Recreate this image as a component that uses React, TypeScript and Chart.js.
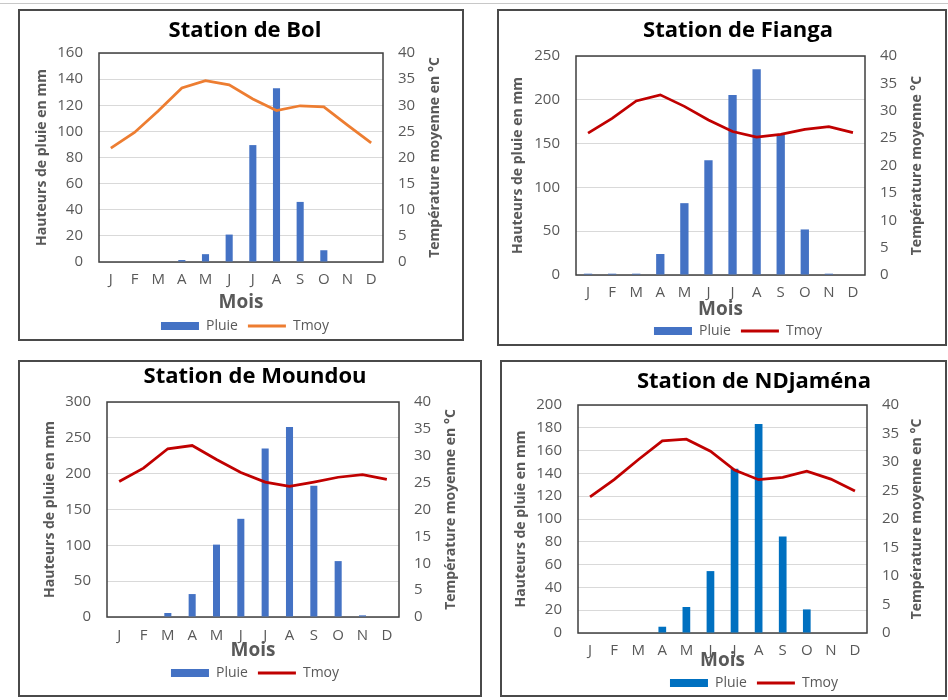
import React, { useEffect, useRef } from "react";
import { Chart, registerables } from "chart.js";

Chart.register(...registerables);

// Month initials on the category axis
const months = ["J", "F", "M", "A", "M", "J", "J", "A", "S", "O", "N", "D"];

// Monthly rainfall (mm) and mean temperature (°C) per station
const bolPluie = [0, 0, 0, 1.5, 6, 21, 89.5, 133, 46, 9, 0, 0];
const bolTmoy = [21.8, 24.8, 28.9, 33.3, 34.7, 33.9, 31.2, 29.0, 29.9, 29.7, 26.2, 22.8];

const fiangaPluie = [1.5, 1.5, 1.5, 24, 82, 131, 205.5, 235, 160, 52, 1.5, 0];
const fiangaTmoy = [25.9, 28.6, 31.8, 32.9, 30.8, 28.3, 26.2, 25.2, 25.7, 26.6, 27.1, 26.0];

const moundouPluie = [0, 0, 5.6, 32, 101, 137, 235, 265, 183, 78, 2.3, 0];
const moundouTmoy = [25.2, 27.7, 31.3, 31.9, 29.3, 26.9, 25.1, 24.3, 25.1, 26.0, 26.5, 25.6];

const ndjamenaPluie = [0, 0, 0, 5.5, 22.8, 54.3, 144, 183.4, 84.7, 20.7, 0, 0];
const ndjamenaTmoy = [23.9, 26.9, 30.4, 33.7, 34.0, 31.9, 28.6, 26.9, 27.3, 28.4, 27.0, 24.9];

const FONT = '"Open Sans", "DejaVu Sans", sans-serif';
const GREY = "#595959";

type Station = {
  title: string;
  pluie: number[];
  tmoy: number[];
  yMax: number;
  yStep: number;
  barColor: string;
  lineColor: string;
  rightTitle: string;
  barPct: number;
  box: { left: number; top: number; w: number; h: number };
  plot: { l: number; t: number; r: number; b: number };
  center: number;
  titleY: number;
  xLabelY: number;
  moisY: number;
  legendY: number;
  leftTitleX: number;
  rightTitleX: number;
};

const stations: Station[] = [
  {
    title: "Station de Bol",
    pluie: bolPluie,
    tmoy: bolTmoy,
    yMax: 160,
    yStep: 20,
    barColor: "#4472C4",
    lineColor: "#ED7D31",
    rightTitle: "Température moyenne en °C",
    barPct: 0.3,
    box: { left: 18, top: 9, w: 446, h: 332 },
    plot: { l: 99, t: 53, r: 383, b: 262 },
    center: 245,
    titleY: 31,
    xLabelY: 280,
    moisY: 303,
    legendY: 326,
    leftTitleX: 42,
    rightTitleX: 435,
  },
  {
    title: "Station de Fianga",
    pluie: fiangaPluie,
    tmoy: fiangaTmoy,
    yMax: 250,
    yStep: 50,
    barColor: "#4472C4",
    lineColor: "#C00000",
    rightTitle: "Température moyenne °C",
    barPct: 0.345,
    box: { left: 497, top: 9, w: 450, h: 337 },
    plot: { l: 576, t: 56, r: 865, b: 275 },
    center: 738,
    titleY: 31,
    xLabelY: 293,
    moisY: 310,
    legendY: 331,
    leftTitleX: 518,
    rightTitleX: 917,
  },
  {
    title: "Station de Moundou",
    pluie: moundouPluie,
    tmoy: moundouTmoy,
    yMax: 300,
    yStep: 50,
    barColor: "#4472C4",
    lineColor: "#C00000",
    rightTitle: "Température moyenne en °C",
    barPct: 0.29,
    box: { left: 18, top: 360, w: 464, h: 337 },
    plot: { l: 107, t: 402, r: 399, b: 617 },
    center: 255,
    titleY: 377,
    xLabelY: 636,
    moisY: 651,
    legendY: 673,
    leftTitleX: 50,
    rightTitleX: 451,
  },
  {
    title: "Station de NDjaména",
    pluie: ndjamenaPluie,
    tmoy: ndjamenaTmoy,
    yMax: 200,
    yStep: 20,
    barColor: "#0070C0",
    lineColor: "#C00000",
    rightTitle: "Température moyenne en °C",
    barPct: 0.32,
    box: { left: 500, top: 360, w: 447, h: 337 },
    plot: { l: 578, t: 405, r: 867, b: 633 },
    center: 754,
    titleY: 382,
    xLabelY: 651,
    moisY: 661,
    legendY: 683,
    leftTitleX: 521,
    rightTitleX: 917,
  },
];

// Dark frame around the plot area
const plotFrame = {
  id: "plotFrame",
  beforeDatasetsDraw(chart: any) {
    const { ctx, chartArea } = chart;
    ctx.save();
    ctx.strokeStyle = "#3f3f3f";
    ctx.lineWidth = 1.5;
    ctx.strokeRect(chartArea.left, chartArea.top, chartArea.right - chartArea.left, chartArea.bottom - chartArea.top);
    ctx.restore();
  },
};

// Right-axis title, read bottom-to-top like the left one
const rightAxisTitle = {
  id: "rightAxisTitle",
  afterDraw(chart: any, _args: any, opts: any) {
    if (!opts || !opts.text) return;
    const { ctx, chartArea } = chart;
    ctx.save();
    ctx.translate(opts.x, (chartArea.top + chartArea.bottom) / 2);
    ctx.rotate(-Math.PI / 2);
    ctx.fillStyle = opts.color;
    ctx.font = `bold ${opts.size}px ${FONT}`;
    ctx.textAlign = "center";
    ctx.textBaseline = "middle";
    ctx.fillText(opts.text, 0, 0);
    ctx.restore();
  },
};

function sizes(st: Station) {
  const cx = st.box.left;
  const cy = st.box.top;
  const W = Math.round(2 * (st.center - cx));
  const H = st.box.h + 30;
  const plotL = st.plot.l - cx;
  const plotR = st.plot.r - cx;
  const plotT = st.plot.t - cy;
  const plotB = st.plot.b - cy;

  const titleFs = 22;
  const titleLh = titleFs * 1.2;
  const titleTop = st.titleY - cy - titleLh / 2;
  const titleBottom = plotT - titleTop - titleLh;

  const legendFs = 14;
  const legendPad = 10;
  const legendC = st.legendY - cy;
  const padBottom = H - 10 - legendFs / 2 - legendC;
  const legendTop = legendC - legendPad - legendFs / 2;
  const xAxisH = legendTop - plotB;

  const tickFs = 15;
  const tickLh = tickFs * 1.2;
  const xTickPad = st.xLabelY - cy - plotB - tickLh / 2;

  const moisFs = 19;
  const moisLh = moisFs * 1.2;
  const moisPadBottom = legendTop - (st.moisY - cy) - moisLh / 2;

  const axFs = 14;
  const axLh = axFs * 1.2;
  const leftTitlePad = st.leftTitleX - cx - axLh / 2;
  const rightTitleX = st.rightTitleX - cx;

  return {
    W, H, plotL, plotR, titleFs, titleTop, titleBottom, legendFs, legendPad, padBottom,
    xAxisH, tickFs, xTickPad, moisFs, moisPadBottom, axFs, leftTitlePad, rightTitleX,
  };
}

function StationChart({ st }: { st: Station }) {
  const ref = useRef<HTMLCanvasElement | null>(null);
  const s = sizes(st);

  useEffect(() => {
    if (!ref.current) return;
    const tickFont = { family: FONT, size: s.tickFs };
    const axTitleFont = { family: FONT, size: s.axFs, weight: "bold" as const };

    const chart = new Chart(ref.current, {
      type: "bar",
      data: {
        labels: months,
        datasets: [
          {
            type: "bar",
            label: "Pluie",
            data: st.pluie,
            yAxisID: "y",
            backgroundColor: st.barColor,
            borderWidth: 0,
            barPercentage: st.barPct,
            categoryPercentage: 1,
            order: 2,
          },
          {
            type: "line",
            label: "Tmoy",
            data: st.tmoy,
            yAxisID: "y1",
            borderColor: st.lineColor,
            backgroundColor: st.lineColor,
            borderWidth: 2.75,
            pointRadius: 0,
            tension: 0,
            fill: false,
            order: 1,
          },
        ] as any,
      },
      options: {
        animation: false,
        responsive: false,
        devicePixelRatio: 1,
        layout: { autoPadding: false, padding: { top: 0, left: 0, right: 0, bottom: s.padBottom } },
        plugins: {
          tooltip: { enabled: false },
          title: {
            display: true,
            text: st.title,
            color: "#000000",
            font: { family: FONT, size: s.titleFs, weight: "bold", lineHeight: 1.2 },
            padding: { top: s.titleTop, bottom: s.titleBottom },
          },
          legend: {
            display: true,
            position: "bottom",
            labels: {
              color: GREY,
              font: { family: FONT, size: s.legendFs },
              padding: s.legendPad,
              usePointStyle: true,
              pointStyleWidth: 38,
              boxHeight: 8,
              generateLabels: (c: any) =>
                c.data.datasets.map((ds: any, i: number) => {
                  const isLine = ds.type === "line";
                  const col = isLine ? ds.borderColor : ds.backgroundColor;
                  return {
                    text: ds.label,
                    datasetIndex: i,
                    fillStyle: col,
                    strokeStyle: col,
                    lineWidth: isLine ? 3 : 0,
                    pointStyle: isLine ? "line" : "rect",
                    fontColor: GREY,
                    hidden: false,
                  };
                }),
            },
          },
          rightAxisTitle: { text: st.rightTitle, x: s.rightTitleX, size: s.axFs, color: GREY },
        },
        scales: {
          x: {
            type: "category",
            offset: true,
            grid: { display: false, drawTicks: false },
            border: { display: false },
            ticks: { color: GREY, font: tickFont, padding: s.xTickPad, maxRotation: 0, autoSkip: false },
            title: {
              display: true,
              text: "Mois",
              color: GREY,
              font: { family: FONT, size: s.moisFs, weight: "bold", lineHeight: 1.2 },
              padding: { top: 0, bottom: s.moisPadBottom },
            },
            afterFit: (scale: any) => {
              scale.height = s.xAxisH;
            },
          },
          y: {
            position: "left",
            min: 0,
            max: st.yMax,
            ticks: { stepSize: st.yStep, color: GREY, font: tickFont, padding: 16 },
            grid: { color: "#d9d9d9", lineWidth: 1, drawTicks: false },
            border: { display: false },
            title: {
              display: true,
              text: "Hauteurs de pluie en mm",
              color: GREY,
              font: axTitleFont,
              padding: { top: s.leftTitlePad, bottom: 0 },
            },
            afterFit: (scale: any) => {
              scale.width = s.plotL;
            },
          },
          y1: {
            position: "right",
            min: 0,
            max: 40,
            ticks: { stepSize: 5, color: GREY, font: tickFont, padding: 15 },
            grid: { display: false, drawTicks: false },
            border: { display: false },
            title: { display: false },
            afterFit: (scale: any) => {
              scale.width = s.W - s.plotR;
            },
          },
        },
      } as any,
      plugins: [plotFrame, rightAxisTitle],
    });
    return () => chart.destroy();
  }, [st]);

  return (
    <>
      <div
        style={{
          position: "absolute",
          left: st.box.left,
          top: st.box.top,
          width: st.box.w,
          height: st.box.h,
          border: "2px solid #4a4a4a",
          boxSizing: "border-box",
          background: "#ffffff",
        }}
      />
      <canvas
        ref={ref}
        width={s.W}
        height={s.H}
        style={{ position: "absolute", left: st.box.left, top: st.box.top, width: s.W, height: s.H, display: "block" }}
      />
    </>
  );
}

export default function App() {
  return (
    <div
      style={{
        position: "absolute",
        left: 0,
        top: 0,
        width: 948,
        height: 700,
        overflow: "hidden",
        background: "#ffffff",
      }}
    >
      <div style={{ position: "absolute", left: 0, top: 3, width: 948, height: 1, background: "#c8c8c8" }} />
      {stations.map((st) => (
        <StationChart key={st.title} st={st} />
      ))}
    </div>
  );
}
